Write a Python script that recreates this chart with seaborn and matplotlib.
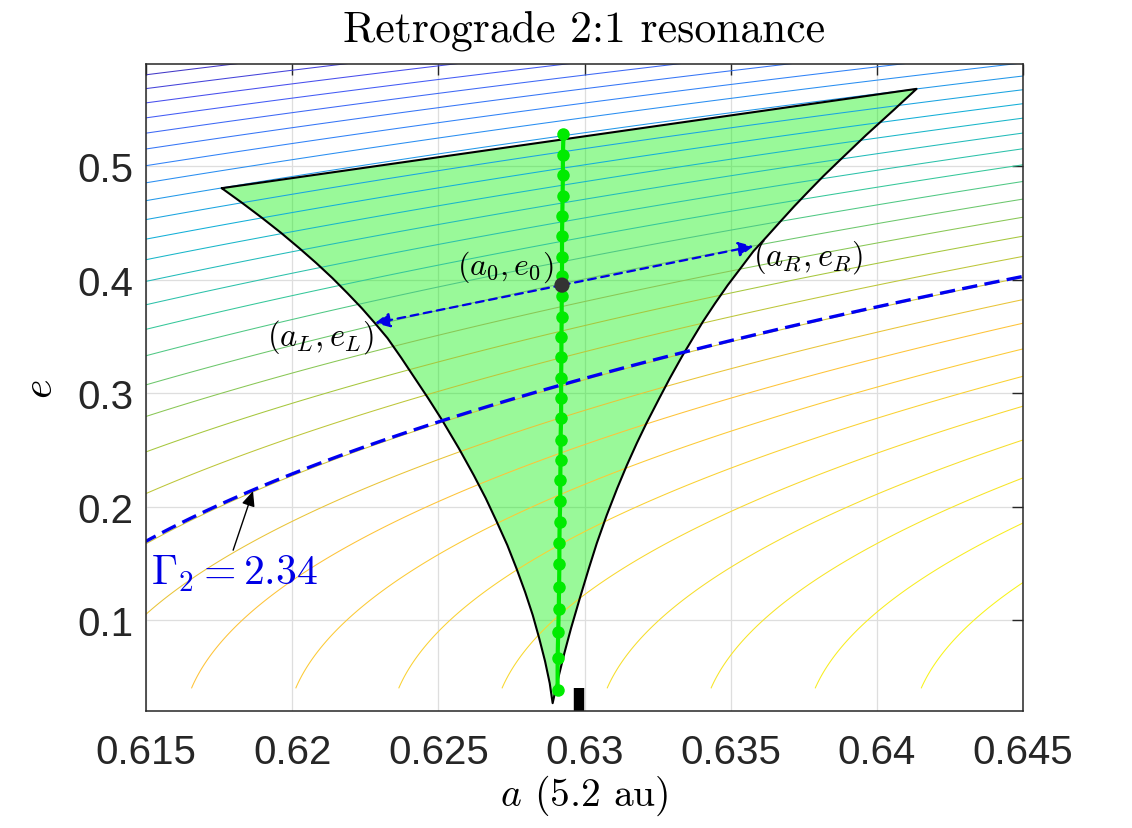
import numpy as np
import matplotlib
matplotlib.use("Agg")
import matplotlib.pyplot as plt
from matplotlib.colors import LinearSegmentedColormap, Normalize
import seaborn as sns
import pandas as pd

# ---------------- data ----------------
# contour levels of Gamma_2 = sqrt(a) * (2 + sqrt(1 - e^2))
gamma_levels = [2.2002, 2.2070, 2.2137, 2.2204, 2.2272, 2.2339, 2.2406, 2.2474,
                2.2541, 2.2608, 2.2676, 2.2743, 2.2810, 2.2877, 2.2945, 2.3012,
                2.3079, 2.3147, 2.3214, 2.3281, 2.3349, 2.3416, 2.3483, 2.3550,
                2.3618, 2.3685, 2.3752, 2.3820, 2.3887, 2.3954, 2.4022, 2.4089]
gamma_marked = 2.3413
a_grid = np.linspace(0.612, 0.648, 500)
e_grid = np.linspace(0.04, 0.60, 500)

# resonance region boundary (left edge top->tip, right edge tip->top)
left_a = [0.61759, 0.61830, 0.61898, 0.61963, 0.62024, 0.62083, 0.62138, 0.62189,
          0.62238, 0.62283, 0.62326, 0.62374, 0.62465, 0.62513, 0.62570, 0.62621,
          0.62662, 0.62699, 0.62736, 0.62767, 0.62797, 0.62823, 0.62845, 0.62865,
          0.62881, 0.62891]
left_e = [0.4806, 0.4674, 0.4542, 0.4410, 0.4278, 0.4145, 0.4013, 0.3881,
          0.3749, 0.3617, 0.3485, 0.3308, 0.2956, 0.2762, 0.2515, 0.2278,
          0.2075, 0.1872, 0.1661, 0.1458, 0.1247, 0.1044, 0.0841, 0.0639,
          0.0445, 0.0269]
right_a = [0.62910, 0.62931, 0.62954, 0.62984, 0.63015, 0.63042, 0.63076, 0.63112,
           0.63145, 0.63179, 0.63212, 0.63256, 0.63292, 0.63334, 0.63371, 0.63406,
           0.63447, 0.63490, 0.63534, 0.63578, 0.63625, 0.63671, 0.63718, 0.63767,
           0.63817, 0.63870, 0.63963, 0.64057, 0.64136]
right_e = [0.0489, 0.0709, 0.0930, 0.1194, 0.1458, 0.1678, 0.1925, 0.2163,
           0.2366, 0.2560, 0.2736, 0.2956, 0.3132, 0.3326, 0.3485, 0.3634,
           0.3793, 0.3952, 0.4101, 0.4251, 0.4383, 0.4515, 0.4648, 0.4780,
           0.4912, 0.5044, 0.5273, 0.5493, 0.5681]

# green track of points
track_a = [0.62928, 0.62926, 0.62926, 0.62925, 0.62924, 0.62923, 0.62923, 0.62923,
           0.62922, 0.62922, 0.62921, 0.62921, 0.62920, 0.62920, 0.62920, 0.62918,
           0.62918, 0.62917, 0.62917, 0.62915, 0.62914, 0.62914, 0.62913, 0.62912,
           0.62910, 0.62908, 0.62908]
track_e = [0.5282, 0.5094, 0.4918, 0.4738, 0.4557, 0.4381, 0.4204, 0.4028,
           0.3852, 0.3667, 0.3491, 0.3315, 0.3138, 0.2962, 0.2780, 0.2589,
           0.2412, 0.2231, 0.2046, 0.1861, 0.1678, 0.1493, 0.1297, 0.1097,
           0.0894, 0.0665, 0.0386]

center_pt = (0.62923, 0.3952)
left_pt = (0.62283, 0.3617)
right_pt = (0.63578, 0.4295)
gamma_arrow_tip = (0.61866, 0.2137)
gamma_arrow_tail = (0.61798, 0.1617)
res_a = 0.6298
res_bar_e = (0.02, 0.0401)

x_ticks = [0.615, 0.62, 0.625, 0.63, 0.635, 0.64, 0.645]
x_ticklabels = ["0.615", "0.62", "0.625", "0.63", "0.635", "0.64", "0.645"]
y_ticks = [0.1, 0.2, 0.3, 0.4, 0.5]
y_ticklabels = ["0.1", "0.2", "0.3", "0.4", "0.5"]

# ---------------- style ----------------
sns.set_style("white")
plt.rcParams["font.family"] = ["Liberation Sans", "DejaVu Sans"]
plt.rcParams["mathtext.fontset"] = "cm"

parula = LinearSegmentedColormap.from_list("parula", [
    (0.000, (0.2422, 0.1504, 0.6603)),
    (0.125, (0.2810, 0.3228, 0.9579)),
    (0.250, (0.1786, 0.5289, 0.9682)),
    (0.375, (0.0689, 0.6948, 0.8394)),
    (0.500, (0.2161, 0.7843, 0.5923)),
    (0.625, (0.6720, 0.7793, 0.2227)),
    (0.750, (0.9970, 0.7659, 0.2199)),
    (0.875, (0.9657, 0.8724, 0.1693)),
    (1.000, (0.9769, 0.9839, 0.0805)),
])

fig = plt.figure(figsize=(11.32, 8.29), dpi=100)
ax = fig.add_axes([0.1290, 0.1411, 0.7747, 0.7805])

A, E = np.meshgrid(a_grid, e_grid)
G = np.sqrt(A) * (2.0 + np.sqrt(1.0 - E ** 2))

# resonance region fill
poly_a = left_a + right_a
poly_e = left_e + right_e
ax.fill(poly_a, poly_e, color=(0.0, 0.95, 0.0), alpha=0.4, lw=0, zorder=1.5)

ax.contour(A, E, G, levels=gamma_levels, cmap=parula,
           norm=Normalize(2.196, 2.409), linewidths=0.75, zorder=2)

ax.plot(poly_a + [poly_a[0]], poly_e + [poly_e[0]], color="k", lw=1.5, zorder=3)

# marked Gamma_2 curve
ax.contour(A, E, G, levels=[gamma_marked], colors=[(0.0, 0.0, 0.95)],
           linewidths=2.4, linestyles=[(0, (4.6, 2.2))], zorder=4)

# green track
df = pd.DataFrame({"a": track_a, "e": track_e})
sns.lineplot(data=df, x="a", y="e", sort=False, estimator=None, ax=ax,
             color=(0.0, 0.92, 0.0), lw=3.0, marker="o", markersize=9,
             markeredgewidth=0, zorder=5)

# dashed arrows to L and R
blue = (0.0, 0.0, 0.9)
for tgt in (left_pt, right_pt):
    ax.annotate("", xy=tgt, xytext=center_pt,
                arrowprops=dict(arrowstyle="-|>,head_length=0.45,head_width=0.22",
                                color=blue, lw=1.6, linestyle=(0, (3.5, 2.5)),
                                shrinkA=0, shrinkB=0, mutation_scale=20),
                zorder=6)

sns.scatterplot(x=[center_pt[0]], y=[center_pt[1]], ax=ax, color=(0.2, 0.2, 0.2),
                s=120, edgecolor="none", zorder=7)

# Gamma label arrow
ax.annotate("", xy=gamma_arrow_tip, xytext=gamma_arrow_tail,
            arrowprops=dict(arrowstyle="-|>,head_length=0.45,head_width=0.2",
                            color="k", lw=1.0, shrinkA=0, shrinkB=0, mutation_scale=20),
            zorder=6)

# nominal resonance location bar
ax.plot([res_a, res_a], list(res_bar_e), color="k", lw=7.5,
        solid_capstyle="butt", zorder=6, clip_on=False)

# text labels
ax.text(0.62892, 0.4119, r"$(a_0,e_0)$", ha="right", va="center", fontsize=23,
        color="k", zorder=8)
ax.text(0.62095, 0.3502, r"$(a_L,e_L)$", ha="center", va="center", fontsize=23.5,
        color="k", zorder=8)
ax.text(0.63766, 0.4207, r"$(a_R,e_R)$", ha="center", va="center", fontsize=23.5,
        color="k", zorder=8)
ax.text(0.61804, 0.1414, r"$\Gamma_2=2.34$", ha="center", va="center", fontsize=30,
        color=(0.0, 0.0, 0.9), zorder=8)

ax.set_xlim(0.615, 0.645)
ax.set_ylim(0.02, 0.59)
ax.set_xticks(x_ticks)
ax.set_xticklabels(x_ticklabels)
ax.set_yticks(y_ticks)
ax.set_yticklabels(y_ticklabels)
ax.tick_params(direction="in", length=8, width=1.0, labelsize=29,
               colors=(0.15, 0.15, 0.15), top=True, right=True)
ax.tick_params(axis="y", pad=9)
ax.tick_params(axis="x", pad=16)
ax.grid(True, color=(0.87, 0.87, 0.87), lw=0.9)
ax.set_axisbelow(True)
for sp in ax.spines.values():
    sp.set_color((0.15, 0.15, 0.15))
    sp.set_linewidth(1.1)
    sp.set_zorder(10)

ax.set_title("Retrograde 2:1 resonance", fontfamily="cmr10", fontsize=31.5,
             color="k", pad=17)
ax.set_xlabel(r"$a$ (5.2 au)", fontfamily="cmr10", fontsize=28.5, color="k",
              labelpad=1)
ax.set_ylabel(r"$e$", fontsize=30, color="k", labelpad=12)

fig.savefig("out.png", dpi=100)
